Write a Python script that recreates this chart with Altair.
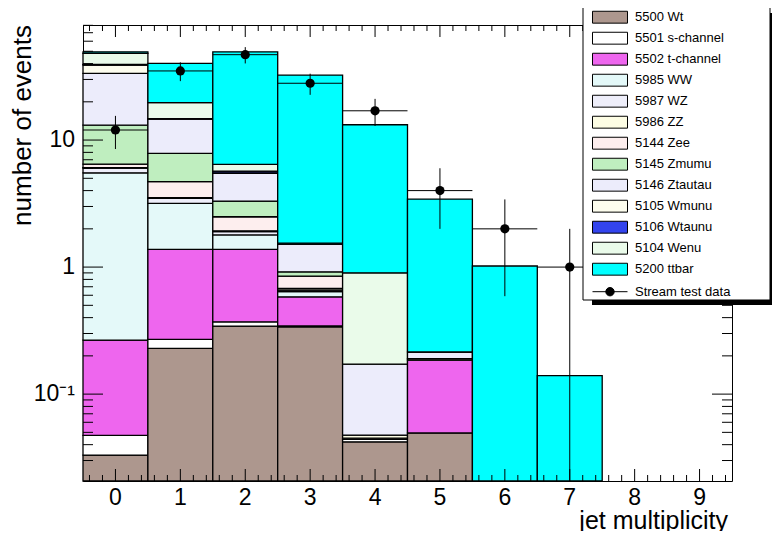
import math
import altair as alt
import pandas as pd

# ---------------- data ----------------
bins = [0, 1, 2, 3, 4, 5, 6, 7, 8, 9]
samples = ["5500 Wt", "5501 s-channel", "5502 t-channel", "5985 WW", "5987 WZ",
           "5986 ZZ", "5144 Zee", "5145 Zmumu", "5146 Ztautau", "5105 Wmunu",
           "5106 Wtaunu", "5104 Wenu", "5200 ttbar"]
colors = ["#ad978e", "#ffffff", "#ee66ee", "#e4f9f9", "#eeeefa", "#fdfde4",
          "#fdeeee", "#bfeebf", "#ececfb", "#fdfdee", "#3344ee", "#eafbea", "#00ffff"]

wt        = [0.0331, 0.229, 0.343, 0.339, 0.0421, 0.0495, 0, 0, 0, 0]
s_channel = [0.0142, 0.041, 0.028, 0.005, 0.0019, 0, 0, 0, 0, 0]
t_channel = [0.219, 1.11, 1.01, 0.239, 0, 0.1355, 0, 0, 0, 0]
ww        = [5.26, 1.79, 0.41, 0.057, 0, 0, 0, 0, 0, 0]
wz        = [0.50, 0.30, 0.11, 0.02, 0.001, 0, 0, 0, 0, 0]
zz        = [0.05, 0.05, 0.03, 0.02, 0.0025, 0.005, 0, 0, 0, 0]
zee       = [0.39, 1.18, 0.56, 0.169, 0, 0, 0, 0, 0, 0]
zmumu     = [6.63, 3.15, 0.82, 0.069, 0, 0, 0, 0, 0, 0]
ztautau   = [20.4, 6.75, 2.16, 0.60, 0.1245, 0.025, 0, 0, 0, 0]
wmunu     = [5.5, 0.1, 0.05, 0.01, 0, 0, 0, 0, 0, 0]
wtaunu    = [0.5, 0.05, 0.18, 0.005, 0, 0, 0, 0, 0, 0]
wenu      = [8.7, 4.95, 0.74, 0.01, 0.729, 0, 0, 0, 0, 0]
ttbar     = [1.3, 20.5, 43.06, 30.95, 12.3, 3.215, 1.02, 0.14, 0, 0]

data_bins = [0, 1, 2, 3, 4, 5, 6, 7]
data_vals = [12, 35, 47, 28, 17, 4, 2, 1]
data_lo   = [8.5, 29.1, 40.1, 22.7, 12.9, 2.0, 0.59, 0.0]
data_hi   = [15.5, 40.9, 53.9, 33.3, 21.1, 6.0, 3.41, 2.0]

y_major = [0.1, 1, 10]
y_labels = ["10⁻¹", "1", "10"]
y_minor = [0.03, 0.04, 0.05, 0.06, 0.07, 0.08, 0.09,
           0.2, 0.3, 0.4, 0.5, 0.6, 0.7, 0.8, 0.9,
           2, 3, 4, 5, 6, 7, 8, 9, 20, 30, 40, 50, 60, 70, 80]
x_major = [0, 1, 2, 3, 4, 5, 6, 7, 8, 9]
x_labels = ["0", "1", "2", "3", "4", "5", "6", "7", "8", "9"]
x_minor = [-0.4, -0.2, 0.2, 0.4, 0.6, 0.8, 1.2, 1.4, 1.6, 1.8, 2.2, 2.4, 2.6, 2.8,
           3.2, 3.4, 3.6, 3.8, 4.2, 4.4, 4.6, 4.8, 5.2, 5.4, 5.6, 5.8, 6.2, 6.4,
           6.6, 6.8, 7.2, 7.4, 7.6, 7.8, 8.2, 8.4, 8.6, 8.8, 9.2, 9.4]
x_title = "jet multiplicity"
y_title = "number of events"

XMIN, XMAX = -0.5, 9.5
YMIN, YMAX = 0.0207, 80.5
W, H = 649, 456
FONT = "Liberation Sans"

# ---------------- tables ----------------
series = [wt, s_channel, t_channel, ww, wz, zz, zee, zmumu, ztautau,
          wmunu, wtaunu, wenu, ttbar]
rows = []
for b in bins:
    cum = 0.0
    for name, vals in zip(samples, series):
        lo = cum
        cum += vals[b]
        if cum <= 0:
            continue
        rows.append(dict(sample=name, xlo=b - 0.5, xhi=b + 0.5,
                         ylo=max(lo, YMIN), yhi=cum))
stack_df = pd.DataFrame(rows)

pts = pd.DataFrame(dict(bin=data_bins, val=data_vals,
                        lo=[max(v, YMIN) for v in data_lo], hi=data_hi,
                        xlo=[b - 0.5 for b in data_bins],
                        xhi=[b + 0.5 for b in data_bins],
                        dlabel="Stream test data"))

# tick-mark table: tick lengths in pixels turned into data units of the scales
LMIN, LMAX = math.log10(YMIN), math.log10(YMAX)
px_dec = H / (LMAX - LMIN)
px_x = W / (XMAX - XMIN)
xt_rows = []
for vals, ln in ((x_major, 12), (x_minor, 6)):
    for v in vals:
        xt_rows.append(dict(xv=v, ya=YMIN, yb=10 ** (LMIN + ln / px_dec)))
        xt_rows.append(dict(xv=v, ya=YMAX, yb=10 ** (LMAX - ln / px_dec)))
yt_rows = []
for vals, ln in ((y_major, 20), (y_minor, 10)):
    for v in vals:
        yt_rows.append(dict(yv=v, xa=XMIN, xb=XMIN + ln / px_x))
        yt_rows.append(dict(yv=v, xa=XMAX, xb=XMAX - ln / px_x))
xt_df = pd.DataFrame(xt_rows)
yt_df = pd.DataFrame(yt_rows)

xlab_df = pd.DataFrame({"v": x_major, "t": x_labels})
ylab_df = pd.DataFrame({"v": y_major, "t": y_labels})

xs = alt.Scale(domain=[XMIN, XMAX], nice=False, zero=False)
ys = alt.Scale(type="log", domain=[YMIN, YMAX], nice=False)

sym_rect = "M-1,-0.34H1V0.34H-1Z"
sym_data = "M-1,0H1M-0.24,0A0.24,0.24 0 1,0 0.24,0A0.24,0.24 0 1,0 -0.24,0Z"

hist = alt.Chart(stack_df).mark_rect(stroke="black", strokeWidth=1.3).encode(
    x=alt.X("xlo:Q", scale=xs, axis=None),
    x2="xhi:Q",
    y=alt.Y("yhi:Q", scale=ys, axis=None),
    y2="ylo:Q",
    fill=alt.Fill("sample:N", scale=alt.Scale(domain=samples, range=colors),
                  legend=alt.Legend(orient="none", legendX=509, legendY=-18,
                                    title=None, symbolType=sym_rect, symbolSize=1225,
                                    symbolStrokeColor="black", symbolStrokeWidth=1,
                                    symbolOpacity=1, labelFont=FONT, labelFontSize=13,
                                    labelColor="black", labelOffset=7, clipHeight=20.4,
                                    rowPadding=0, padding=0, labelLimit=300)),
)

hbar = alt.Chart(pts).mark_rule(color="black", strokeWidth=1).encode(
    x=alt.X("xlo:Q", scale=xs, axis=None),
    x2="xhi:Q",
    y=alt.Y("val:Q", scale=ys, axis=None),
)

vbar = alt.Chart(pts).mark_rule(strokeWidth=1, fill="black").encode(
    x=alt.X("bin:Q", scale=xs, axis=None),
    y=alt.Y("lo:Q", scale=ys, axis=None),
    y2="hi:Q",
    stroke=alt.Stroke("dlabel:N", scale=alt.Scale(domain=["Stream test data"], range=["black"]),
                      legend=alt.Legend(orient="none", legendX=509, legendY=256.1,
                                        title=None, symbolType=sym_data, symbolSize=1225,
                                        symbolStrokeWidth=1, symbolFillColor="black",
                                        symbolOpacity=1, labelFont=FONT, labelFontSize=13,
                                        labelColor="black", labelOffset=7, clipHeight=21.2,
                                        rowPadding=0, padding=0, labelLimit=300)),
)

points = alt.Chart(pts).mark_point(filled=True, color="black", size=85, opacity=1).encode(
    x=alt.X("bin:Q", scale=xs, axis=None),
    y=alt.Y("val:Q", scale=ys, axis=None),
)

xtick_layer = alt.Chart(xt_df).mark_rule(color="black", strokeWidth=1).encode(
    x=alt.X("xv:Q", scale=xs, axis=None),
    y=alt.Y("ya:Q", scale=ys, axis=None),
    y2="yb:Q",
)
ytick_layer = alt.Chart(yt_df).mark_rule(color="black", strokeWidth=1).encode(
    x=alt.X("xa:Q", scale=xs, axis=None),
    x2="xb:Q",
    y=alt.Y("yv:Q", scale=ys, axis=None),
)

xlab = alt.Chart(xlab_df).mark_text(font=FONT, fontSize=23, align="center",
                                    baseline="top", color="black").encode(
    x=alt.X("v:Q", scale=xs, axis=None), y=alt.value(H + 6), text="t:N")
ylab = alt.Chart(ylab_df).mark_text(font=FONT, fontSize=23, align="right",
                                    baseline="middle", color="black").encode(
    y=alt.Y("v:Q", scale=ys, axis=None), x=alt.value(-8), text="t:N")

title_df = pd.DataFrame({"xt": [x_title], "yt": [y_title]})
xtitle = alt.Chart(title_df).mark_text(font=FONT, fontSize=25, align="right",
                                       baseline="alphabetic", color="black").encode(
    x=alt.value(645), y=alt.value(H + 48), text="xt:N")
ytitle = alt.Chart(title_df).mark_text(font=FONT, fontSize=26, align="right",
                                       baseline="alphabetic", angle=270,
                                       color="black").encode(
    x=alt.value(-52), y=alt.value(0), text="yt:N")

box_df = pd.DataFrame({"k": [0]})
shadow = alt.Chart(box_df).mark_rect(fill="black").encode(
    x=alt.value(509), x2=alt.value(702), y=alt.value(271), y2=alt.value(280))
shadow_r = alt.Chart(box_df).mark_rect(fill="black").encode(
    x=alt.value(684), x2=alt.value(702), y=alt.value(-12), y2=alt.value(280))
frame = alt.Chart(box_df).mark_rect(fill="white", stroke="black", strokeWidth=1).encode(
    x=alt.value(500), x2=alt.value(687), y=alt.value(-21), y2=alt.value(275))

chart = alt.layer(hist, hbar, vbar, points, xtick_layer, ytick_layer,
                  xlab, ylab, xtitle, ytitle, shadow, shadow_r, frame).properties(
    width=W, height=H,
    autosize=alt.AutoSizeParams(type="none"),
    padding={"left": 75, "top": 17, "right": 40, "bottom": 50},
    background="white",
).configure_view(stroke="black", strokeWidth=1)

chart.save("out.html", embed_options={"renderer": "svg", "actions": False})
